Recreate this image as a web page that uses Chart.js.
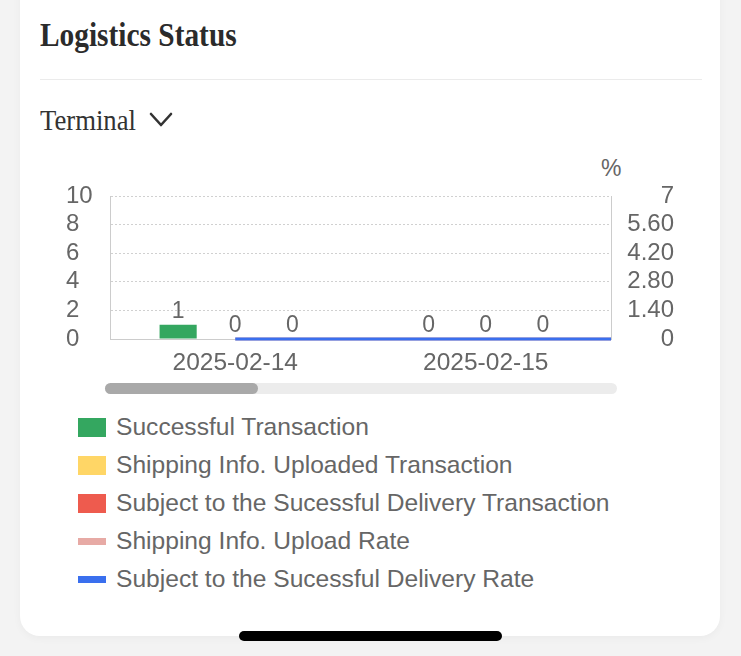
<!DOCTYPE html>
<html>
<head>
<meta charset="utf-8">
<title>Logistics Status</title>
<script src="https://cdn.jsdelivr.net/npm/chart.js@4.4.1/dist/chart.umd.min.js"></script>
<style>
  html, body { margin: 0; padding: 0; }
  body {
    width: 741px; height: 656px; position: relative; overflow: hidden;
    background: #f3f3f3; font-family: "Liberation Sans", Arial, sans-serif;
  }
  .card {
    position: absolute; left: 20px; top: -30px; width: 700px; height: 666px;
    background: #fff; border-radius: 20px; box-shadow: 0 2px 8px rgba(0, 0, 0, 0.04);
  }
  .title {
    position: absolute; left: 40px; top: 19px; white-space: nowrap; color: #2b2b2b;
    font: bold 33px/33px "Liberation Serif", "Times New Roman", serif;
    transform: scaleX(0.89); transform-origin: left center;
  }
  .divider { position: absolute; left: 40px; top: 79px; width: 662px; height: 1px; background: #ebebeb; }
  .terminal {
    position: absolute; left: 40px; top: 105px; white-space: nowrap; color: #333;
    font: 30px/30px "Liberation Serif", "Times New Roman", serif;
    transform: scaleX(0.89); transform-origin: left center;
  }
  .chevron { position: absolute; left: 148px; top: 110px; }
  .unit { position: absolute; left: 601px; top: 157px; font: 23px/23px "Liberation Sans", Arial, sans-serif; color: #666; }
  .chart-wrap { position: absolute; left: 0; top: 150px; width: 741px; height: 225px; }
  .track { position: absolute; left: 105px; top: 383px; width: 512px; height: 11px; background: #ececec; border-radius: 6px; }
  .thumb { position: absolute; left: 105px; top: 383px; width: 153px; height: 11px; background: #a9a9a9; border-radius: 6px; }
  .legend { position: absolute; left: 78px; top: 408px; }
  .legend-row { display: flex; align-items: center; height: 38px; color: #666; font-size: 24.6px; white-space: nowrap; }
  .swatch { width: 28px; margin-right: 10px; flex: none; }
  .home { position: absolute; left: 239px; top: 631px; width: 263px; height: 10px; background: #000; border-radius: 6px; }
</style>
</head>
<body>
<div class="card"></div>
<div class="title">Logistics Status</div>
<div class="divider"></div>
<div class="terminal">Terminal</div>
<svg class="chevron" width="28" height="20" viewBox="0 0 28 20">
  <polyline points="3,4 13,15 23,4" fill="none" stroke="#333" stroke-width="2.6" stroke-linecap="round" stroke-linejoin="round"/>
</svg>
<div class="unit">%</div>
<div class="chart-wrap"><canvas id="chartLogistics"></canvas></div>
<div class="track"></div>
<div class="thumb"></div>
<div class="legend" id="legend"></div>
<div class="home"></div>

<script>
  // Data (the view shows the first two dates of the zoom window)
  const dates = ["2025-02-14", "2025-02-15", "2025-02-16"];
  const successfulTx = [1, 0, null];
  const shippingUploadedTx = [0, 0, null];
  const deliverySubjectTx = [0, 0, null];
  const shippingUploadRate = [0, 0, 0];
  const deliveryRate = [0, 0, 0];

  // visible window of the category axis (indexes into dates)
  const viewStart = 0;
  const viewEnd = 1;

  const leftTicks = [0, 2, 4, 6, 8, 10];
  const rightTicks = [0, 1.4, 2.8, 4.2, 5.6, 7];
  const rightTickLabels = ["0", "1.40", "2.80", "4.20", "5.60", "7"];

  const seriesNames = [
    "Successful Transaction",
    "Shipping Info. Uploaded Transaction",
    "Subject to the Sucessful Delivery Transaction",
    "Shipping Info. Upload Rate",
    "Subject to the Sucessful Delivery Rate",
  ];

  const COLORS = {
    green: "#34a760",
    yellow: "#ffd666",
    red: "#ee5b4e",
    pink: "#e7aaa5",
    blue: "#3a6fee",
    text: "#666666",
    axis: "#cccccc",
    grid: "#d0d0d0",
  };
  const FONT = "'Liberation Sans', Arial, sans-serif";

  /* ── value labels on top of the bars ── */
  const valueLabels = {
    id: "valueLabels",
    afterDatasetsDraw(chart) {
      const { ctx, chartArea } = chart;
      ctx.save();
      ctx.font = "23px " + FONT;
      ctx.fillStyle = COLORS.text;
      ctx.textAlign = "center";
      ctx.textBaseline = "alphabetic";
      chart.data.datasets.forEach((ds, i) => {
        if (ds.type === "line") return;
        chart.getDatasetMeta(i).data.forEach((bar, j) => {
          const v = ds.data[j];
          if (v === null || bar.x > chartArea.right) return;
          ctx.fillText(String(v), bar.x, bar.y - 7);
        });
      });
      ctx.restore();
    },
  };

  const barSeries = [successfulTx, shippingUploadedTx, deliverySubjectTx];
  const barColors = [COLORS.green, COLORS.yellow, COLORS.red];
  const lineSeries = [shippingUploadRate, deliveryRate];
  const lineColors = [COLORS.pink, COLORS.blue];

  const datasets = [];
  barSeries.forEach((data, i) => {
    datasets.push({
      label: seriesNames[i],
      data: data,
      backgroundColor: barColors[i],
      yAxisID: "y",
      order: 3,
      categoryPercentage: 0.684,
      barPercentage: 0.65,
    });
  });
  lineSeries.forEach((data, i) => {
    datasets.push({
      type: "line",
      label: seriesNames[3 + i],
      data: data,
      borderColor: lineColors[i],
      backgroundColor: lineColors[i],
      borderWidth: 3,
      pointRadius: 0,
      yAxisID: "y1",
      order: 1 - i,
      clip: { left: 0, right: 0, top: 10, bottom: 10 },
    });
  });

  new Chart(document.getElementById("chartLogistics"), {
    type: "bar",
    data: { labels: dates, datasets: datasets },
    options: {
      responsive: true,
      maintainAspectRatio: false,
      animation: false,
      layout: { padding: { top: 46, left: 66, right: 67, bottom: 0 } },
      plugins: {
        legend: { display: false },
        tooltip: { enabled: false },
      },
      scales: {
        x: {
          // window set after data limits so the rate lines still run on to the next date
          afterDataLimits: (s) => { s.min = viewStart; s.max = viewEnd; },
          grid: { display: false, drawTicks: false },
          border: { display: true, color: COLORS.axis, width: 1 },
          ticks: { color: COLORS.text, font: { size: 24.5, family: FONT }, padding: 10, autoSkip: false, maxRotation: 0 },
          afterFit: (s) => { s.height = 36; },
        },
        y: {
          position: "left",
          min: 0,
          max: 10,
          afterBuildTicks: (s) => { s.ticks = leftTicks.map((v) => ({ value: v })); },
          afterFit: (s) => { s.width = 44; },
          ticks: { crossAlign: "far", autoSkip: false, color: COLORS.text, font: { size: 24, family: FONT }, padding: 0 },
          grid: {
            drawTicks: false,
            lineWidth: 1,
            color: (c) => (c.tick && c.tick.value === 0 ? "rgba(0,0,0,0)" : COLORS.grid),
          },
          border: { display: true, color: COLORS.axis, width: 1, dash: [2, 2] },
        },
        y1: {
          position: "right",
          min: 0,
          max: 7,
          afterBuildTicks: (s) => { s.ticks = rightTicks.map((v) => ({ value: v })); },
          afterFit: (s) => { s.width = 63; },
          ticks: {
            crossAlign: "far",
            autoSkip: false,
            color: COLORS.text,
            font: { size: 24, family: FONT },
            padding: 0,
            callback: (v, i) => rightTickLabels[i],
          },
          grid: { drawOnChartArea: false, drawTicks: false },
          border: { display: true, color: COLORS.axis, width: 1 },
        },
      },
    },
    plugins: [valueLabels],
  });

  /* ── HTML legend, one series per row ── */
  const legendColors = barColors.concat(lineColors);
  const legendEl = document.getElementById("legend");
  seriesNames.forEach((name, i) => {
    const row = document.createElement("div");
    row.className = "legend-row";
    const sw = document.createElement("span");
    sw.className = "swatch";
    sw.style.height = i < 3 ? "19px" : "7px";
    sw.style.background = legendColors[i];
    const txt = document.createElement("span");
    txt.textContent = name;
    row.appendChild(sw);
    row.appendChild(txt);
    legendEl.appendChild(row);
  });
</script>
</body>
</html>
